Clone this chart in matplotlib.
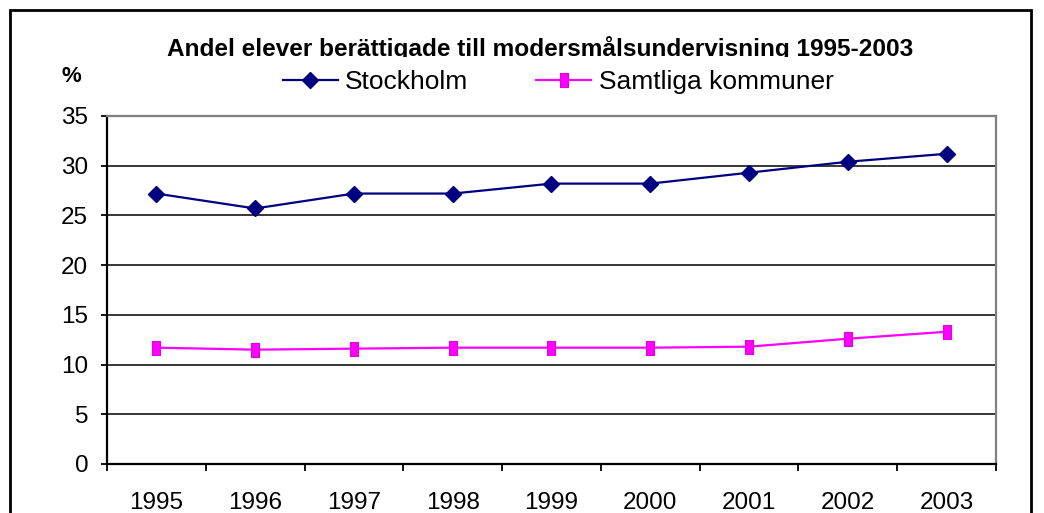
import numpy as np
import matplotlib
matplotlib.use("Agg")
import matplotlib.pyplot as plt
from matplotlib.patches import Rectangle
from matplotlib.path import Path

plt.rcParams['font.family'] = ['Liberation Sans', 'DejaVu Sans']

# data
years = ['1995', '1996', '1997', '1998', '1999', '2000', '2001', '2002', '2003']
stockholm = [27.2, 25.7, 27.2, 27.2, 28.2, 28.2, 29.3, 30.4, 31.2]
samtliga = [11.7, 11.5, 11.6, 11.7, 11.7, 11.7, 11.8, 12.6, 13.3]
y_ticks = [0, 5, 10, 15, 20, 25, 30, 35]

title = 'Andel elever berättigade till modersmålsundervisning 1995-2003'

fig = plt.figure(figsize=(10.44, 5.13), dpi=100)
ax = fig.add_axes([107/1044, 49/513, (996-107)/1044, (464-116)/513])

x = np.arange(len(years))

# tall rectangle marker like the Excel squares
rect_marker = Path([(-0.6, -1), (0.6, -1), (0.6, 1), (-0.6, 1), (-0.6, -1)],
                   [Path.MOVETO, Path.LINETO, Path.LINETO, Path.LINETO, Path.CLOSEPOLY])

l1, = ax.plot(x, stockholm, color='#000080', lw=1.6, marker='D', markersize=7.8,
              markerfacecolor='#000080', markeredgecolor='#000080', label='Stockholm', zorder=5)
l2, = ax.plot(x, samtliga, color='#FF00FF', lw=1.6, marker=rect_marker, markersize=10,
              markerfacecolor='#FF00FF', markeredgecolor='#E000E0', markeredgewidth=0.8,
              label='Samtliga kommuner', zorder=5)

ax.set_xlim(-0.5, len(years) - 0.5)
ax.set_ylim(0, 35)
ax.set_yticks(y_ticks)
ax.set_yticklabels([str(v) for v in y_ticks])
ax.yaxis.grid(True, color='black', lw=1.1)
ax.set_axisbelow(True)

# category ticks on the boundaries, labels in the middle
ax.set_xticks(np.arange(len(years) + 1) - 0.5)
ax.set_xticklabels([])
ax.set_xticks(x, minor=True)
ax.set_xticklabels(years, minor=True)
ax.tick_params(axis='x', which='major', direction='out', length=5, width=1.3)
ax.tick_params(axis='x', which='minor', length=0, pad=20, labelsize=17.5)
ax.tick_params(axis='y', direction='out', length=4.5, width=1.3, pad=9, labelsize=17.5)

for s in ['left', 'bottom']:
    ax.spines[s].set_color('black')
    ax.spines[s].set_linewidth(1.6)
for s in ['top', 'right']:
    ax.spines[s].set_color('#808080')
    ax.spines[s].set_linewidth(1.6)

# title, clipped at the bottom like in the original
fig.text(540/1044, (513-56)/513, title, ha='center', va='baseline',
         fontsize=17.6, fontweight='bold', zorder=1)
fig.patches.append(Rectangle((150/1044, (513-70)/513), 800/1044, 12.5/513,
                             transform=fig.transFigure, facecolor='white',
                             edgecolor='none', zorder=2))

fig.text(71/1044, (513-77)/513, '%', ha='center', va='center',
         fontsize=16, fontweight='bold')

leg = fig.legend(handles=[l1, l2], ncol=2, loc='center',
                 bbox_to_anchor=(558/1044, (513-82)/513), frameon=False,
                 fontsize=19, handlelength=2.08, handletextpad=0.27,
                 columnspacing=2.6, borderpad=0, borderaxespad=0)
leg.set_zorder(5)

# outer chart border
fig.patches.append(Rectangle((10/1044, -0.2), 1021/1044, (503/513) + 0.2,
                             transform=fig.transFigure, fill=False,
                             edgecolor='black', lw=2, zorder=0))

fig.savefig('out.png', dpi=100)
